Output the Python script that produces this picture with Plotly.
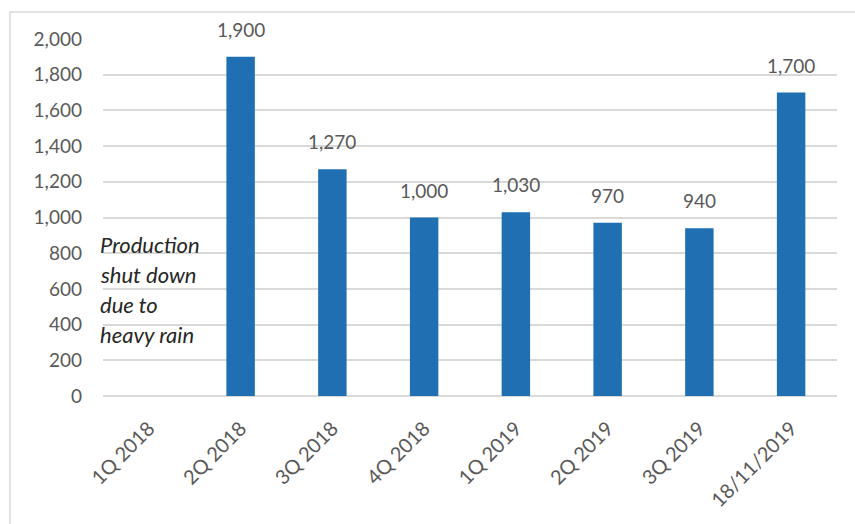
import plotly.graph_objects as go

categories = ["1Q 2018", "2Q 2018", "3Q 2018", "4Q 2018", "1Q 2019", "2Q 2019", "3Q 2019", "18/11/2019"]
values = [None, 1900, 1270, 1000, 1030, 970, 940, 1700]
value_labels = ["", "1,900", "1,270", "1,000", "1,030", "970", "940", "1,700"]
note_lines = ["Production", "shut down", "due to", "heavy rain"]
note_y = [846, 678, 510, 342]

FONT = "Lato"
GREY = "#595959"

fig = go.Figure()
fig.add_trace(go.Bar(x=categories, y=values, marker=dict(color="#1F6FB2", line=dict(width=0)),
                     width=0.31, hoverinfo="skip"))

for c, v, t in zip(categories, values, value_labels):
    if v is None:
        continue
    fig.add_annotation(x=c, y=v, text=t, showarrow=False, yanchor="bottom", yshift=14,
                       font=dict(family=FONT, size=19, color=GREY))

for line, yy in zip(note_lines, note_y):
    fig.add_annotation(x=-0.007, xref="paper", y=yy, yref="y", text=f"<i>{line}</i>", showarrow=False,
                       xanchor="left", yanchor="middle",
                       font=dict(family=FONT, size=22, color="#262626"))

# outer frame
fig.add_shape(type="rect", xref="paper", yref="paper", x0=-0.1267, x1=1.05, y0=-0.5, y1=1.0756,
              line=dict(color="#D9D9D9", width=1.5), fillcolor="rgba(0,0,0,0)", layer="below")

fig.update_layout(
    width=855, height=524,
    margin=dict(l=103, r=18, t=39, b=128),
    paper_bgcolor="white", plot_bgcolor="white",
    showlegend=False,
    font=dict(family=FONT, size=19, color=GREY),
    xaxis=dict(tickangle=-45, showgrid=False, showline=False, ticks="", zeroline=False,
               tickfont=dict(family=FONT, size=20, color=GREY), ticklabelstandoff=16),
    yaxis=dict(range=[0, 2000], dtick=200, tickformat=",d", showgrid=True, gridcolor="#D9D9D9",
               gridwidth=1.5, zeroline=True, zerolinecolor="#D9D9D9", zerolinewidth=1.5,
               showline=False, ticks="", ticklabelstandoff=20,
               tickfont=dict(family=FONT, size=19, color=GREY)),
)

fig.write_html("out.html")
